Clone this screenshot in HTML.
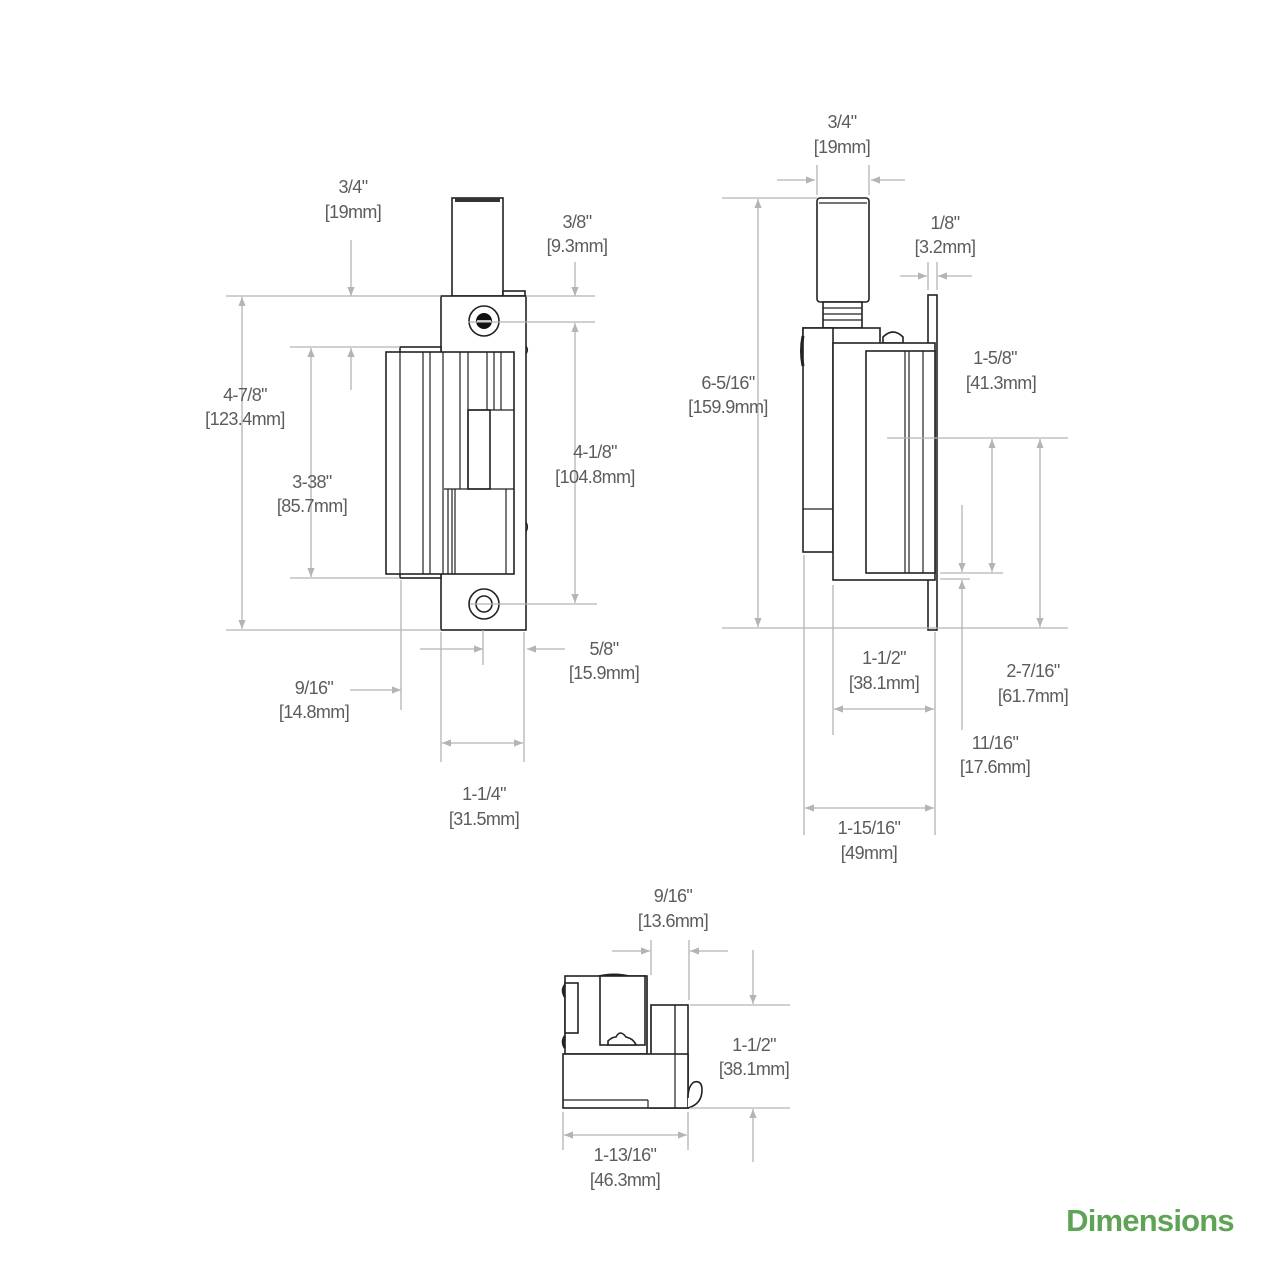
<!DOCTYPE html>
<html><head><meta charset="utf-8"><style>
html,body{margin:0;padding:0;background:#fff;}
svg{display:block;}
text{font-family:"Liberation Sans",sans-serif;font-size:18px;fill:#5c5c5c;text-anchor:middle;letter-spacing:-0.6px;}
.d{stroke:#b4b4b4;stroke-width:1.3;fill:none;}
.o{stroke:#222;stroke-width:1.6;fill:#fff;}
.l{stroke:#222;stroke-width:1.2;fill:none;}
</style></head><body>
<svg width="1280" height="1280" viewBox="0 0 1280 1280" xmlns="http://www.w3.org/2000/svg">
<defs>
<marker id="a" viewBox="0 0 10 10" refX="10" refY="5" markerWidth="9" markerHeight="9" orient="auto-start-reverse" markerUnits="userSpaceOnUse"><path d="M0,1 L10,5 L0,9 z" fill="#b4b4b4"/></marker>
</defs>

<!-- ===== LEFT VIEW ===== -->
<rect class="o" x="452" y="198" width="51" height="98"/>
<rect x="455" y="198" width="45" height="4" fill="#333"/>
<rect class="o" x="503" y="291" width="22" height="5"/>
<rect class="o" x="441" y="296" width="85" height="334"/>
<rect class="o" x="400" y="347" width="41" height="6"/>
<rect class="o" x="400" y="573" width="41" height="5"/>
<rect class="o" x="386" y="352" width="128" height="222"/>
<g class="l">
<line x1="400" y1="352" x2="400" y2="574"/>
<line x1="423" y1="352" x2="423" y2="574"/>
<line x1="430" y1="352" x2="430" y2="574"/>
<line x1="443" y1="352" x2="443" y2="574"/>
<line x1="460" y1="352" x2="460" y2="489"/>
<line x1="468" y1="352" x2="468" y2="489"/>
<line x1="487" y1="352" x2="487" y2="410"/>
<line x1="494" y1="352" x2="494" y2="410"/>
<line x1="501" y1="352" x2="501" y2="410"/>
<line x1="468" y1="410" x2="514" y2="410"/>
<rect x="468" y="410" width="22" height="79" stroke-width="1.6"/>
<line x1="444" y1="489" x2="514" y2="489"/>
<line x1="448" y1="489" x2="448" y2="574"/>
<line x1="452" y1="489" x2="452" y2="574"/>
<line x1="455" y1="489" x2="455" y2="574"/>
<line x1="506" y1="489" x2="506" y2="574"/>
</g>
<path d="M526,346 q3,4 0,8 M526,522 q3,5 0,10" class="l"/>
<circle cx="484" cy="321" r="15" class="o"/>
<circle cx="484" cy="321" r="8" fill="#111"/>
<line x1="477" y1="321" x2="491" y2="321" stroke="#fff" stroke-width="1.5"/>
<circle cx="484" cy="604" r="15" class="o"/>
<circle cx="484" cy="604" r="8" class="o"/>

<g class="d">
<line x1="226" y1="296" x2="441" y2="296"/>
<line x1="290" y1="347" x2="400" y2="347"/>
<line x1="226" y1="630" x2="441" y2="630"/>
<line x1="290" y1="578" x2="400" y2="578"/>
<line x1="526" y1="296" x2="595" y2="296"/>
<line x1="468" y1="322" x2="595" y2="322"/>
<line x1="470" y1="604" x2="597" y2="604"/>
<line x1="351" y1="240" x2="351" y2="296" marker-end="url(#a)"/>
<line x1="351" y1="390" x2="351" y2="348" marker-end="url(#a)"/>
<line x1="575" y1="262" x2="575" y2="296" marker-end="url(#a)"/>
<line x1="575" y1="323" x2="575" y2="603" marker-start="url(#a)" marker-end="url(#a)"/>
<line x1="242" y1="297" x2="242" y2="629" marker-start="url(#a)" marker-end="url(#a)"/>
<line x1="311" y1="348" x2="311" y2="577" marker-start="url(#a)" marker-end="url(#a)"/>
<line x1="420" y1="649" x2="483" y2="649" marker-end="url(#a)"/>
<line x1="565" y1="649" x2="527" y2="649" marker-end="url(#a)"/>
<line x1="483" y1="630" x2="483" y2="665"/>
<line x1="350" y1="690" x2="401" y2="690" marker-end="url(#a)"/>
<line x1="401" y1="580" x2="401" y2="710"/>
<line x1="441" y1="632" x2="441" y2="762"/>
<line x1="524" y1="632" x2="524" y2="762"/>
<line x1="442" y1="743" x2="523" y2="743" marker-start="url(#a)" marker-end="url(#a)"/>
</g>
<text x="353" y="193">3/4"</text><text x="353" y="218">[19mm]</text>
<text x="577" y="228">3/8"</text><text x="577" y="252">[9.3mm]</text>
<text x="245" y="401">4-7/8"</text><text x="245" y="425">[123.4mm]</text>
<text x="595" y="458">4-1/8"</text><text x="595" y="483">[104.8mm]</text>
<text x="312" y="488">3-38"</text><text x="312" y="512">[85.7mm]</text>
<text x="604" y="655">5/8"</text><text x="604" y="679">[15.9mm]</text>
<text x="314" y="694">9/16"</text><text x="314" y="718">[14.8mm]</text>
<text x="484" y="800">1-1/4"</text><text x="484" y="825">[31.5mm]</text>

<!-- ===== RIGHT VIEW ===== -->
<rect class="o" x="817" y="198" width="52" height="104" rx="3"/>
<line x1="819" y1="203" x2="867" y2="203" class="l"/>
<rect class="o" x="823" y="302" width="39" height="26"/>
<g class="l"><line x1="823" y1="308" x2="862" y2="308"/><line x1="823" y1="314" x2="862" y2="314"/><line x1="823" y1="320" x2="862" y2="320"/></g>
<rect class="o" x="803" y="328" width="77" height="16"/>
<rect class="o" x="803" y="328" width="30" height="224"/>
<line x1="803" y1="509" x2="833" y2="509" class="l"/>
<path d="M803,336 q-3,15 0,30" stroke="#222" stroke-width="3" fill="none"/>
<path d="M883,343 v-6 q10,-10 20,0 v6 z" class="o"/>
<rect class="o" x="928" y="295" width="9" height="335"/>
<rect class="o" x="833" y="343" width="102" height="237"/>
<rect class="o" x="866" y="351" width="69" height="222"/>
<g class="l"><line x1="905" y1="351" x2="905" y2="573"/><line x1="909" y1="351" x2="909" y2="573"/><line x1="923" y1="351" x2="923" y2="573"/></g>

<g class="d">
<line x1="817" y1="165" x2="817" y2="195"/>
<line x1="869" y1="165" x2="869" y2="195"/>
<line x1="777" y1="180" x2="815" y2="180" marker-end="url(#a)"/>
<line x1="905" y1="180" x2="871" y2="180" marker-end="url(#a)"/>
<line x1="722" y1="198" x2="817" y2="198"/>
<line x1="722" y1="628" x2="1068" y2="628"/>
<line x1="758" y1="199" x2="758" y2="627" marker-start="url(#a)" marker-end="url(#a)"/>
<line x1="900" y1="276" x2="927" y2="276" marker-end="url(#a)"/>
<line x1="972" y1="276" x2="938" y2="276" marker-end="url(#a)"/>
<line x1="928" y1="262" x2="928" y2="290"/>
<line x1="937" y1="262" x2="937" y2="290"/>
<line x1="887" y1="438" x2="1068" y2="438"/>
<line x1="992" y1="439" x2="992" y2="572" marker-start="url(#a)" marker-end="url(#a)"/>
<line x1="1040" y1="439" x2="1040" y2="627" marker-start="url(#a)" marker-end="url(#a)"/>
<line x1="940" y1="573" x2="1003" y2="573"/>
<line x1="940" y1="579" x2="970" y2="579"/>
<line x1="962" y1="505" x2="962" y2="572" marker-end="url(#a)"/>
<line x1="962" y1="730" x2="962" y2="580" marker-end="url(#a)"/>
<line x1="804" y1="555" x2="804" y2="835"/>
<line x1="833" y1="585" x2="833" y2="735"/>
<line x1="935" y1="632" x2="935" y2="835"/>
<line x1="834" y1="709" x2="934" y2="709" marker-start="url(#a)" marker-end="url(#a)"/>
<line x1="805" y1="808" x2="934" y2="808" marker-start="url(#a)" marker-end="url(#a)"/>
</g>
<text x="842" y="128">3/4"</text><text x="842" y="153">[19mm]</text>
<text x="945" y="229">1/8"</text><text x="945" y="253">[3.2mm]</text>
<text x="728" y="389">6-5/16"</text><text x="728" y="413">[159.9mm]</text>
<text x="995" y="364">1-5/8"</text><text x="1001" y="389">[41.3mm]</text>
<text x="884" y="664">1-1/2"</text><text x="884" y="689">[38.1mm]</text>
<text x="1033" y="677">2-7/16"</text><text x="1033" y="702">[61.7mm]</text>
<text x="995" y="749">11/16"</text><text x="995" y="773">[17.6mm]</text>
<text x="869" y="834">1-15/16"</text><text x="869" y="859">[49mm]</text>

<!-- ===== BOTTOM VIEW ===== -->
<path d="M596,976 q18,-5 36,0 z" fill="#222"/>
<rect class="o" x="565" y="976" width="82" height="78"/>
<rect class="o" x="600" y="976" width="45" height="69"/>
<line x1="647" y1="978" x2="647" y2="1052" class="l"/>
<path d="M608,1045 v-4 q4,-4 8,-4 q4,-8 10,0 q8,2 10,8 z" class="o"/>
<rect class="o" x="565" y="983" width="13" height="50"/>
<path d="M565,985 q-4,5 0,12 M565,1036 q-4,6 0,12" stroke="#222" stroke-width="2.5" fill="none"/>
<rect class="o" x="651" y="1005" width="37" height="103"/>
<line x1="675" y1="1005" x2="675" y2="1108" class="l"/>
<rect class="o" x="563" y="1054" width="125" height="54"/>
<line x1="651" y1="1054" x2="651" y2="1005" class="l"/>
<line x1="675" y1="1005" x2="675" y2="1108" class="l"/>
<line x1="563" y1="1100" x2="648" y2="1100" class="l"/>
<line x1="648" y1="1100" x2="648" y2="1108" class="l"/>
<path d="M688,1108 q14,-4 14,-18 q0,-10 -8,-8 q-6,4 -6,16" class="o"/>

<g class="d">
<line x1="651" y1="940" x2="651" y2="975"/>
<line x1="689" y1="940" x2="689" y2="1000"/>
<line x1="612" y1="951" x2="650" y2="951" marker-end="url(#a)"/>
<line x1="728" y1="951" x2="690" y2="951" marker-end="url(#a)"/>
<line x1="690" y1="1005" x2="790" y2="1005"/>
<line x1="690" y1="1108" x2="790" y2="1108"/>
<line x1="753" y1="950" x2="753" y2="1004" marker-end="url(#a)"/>
<line x1="753" y1="1162" x2="753" y2="1109" marker-end="url(#a)"/>
<line x1="563" y1="1112" x2="563" y2="1150"/>
<line x1="688" y1="1112" x2="688" y2="1150"/>
<line x1="564" y1="1135" x2="687" y2="1135" marker-start="url(#a)" marker-end="url(#a)"/>
</g>
<text x="673" y="902">9/16"</text><text x="673" y="927">[13.6mm]</text>
<text x="754" y="1051">1-1/2"</text><text x="754" y="1075">[38.1mm]</text>
<text x="625" y="1161">1-13/16"</text><text x="625" y="1186">[46.3mm]</text>

<text x="1150" y="1231" style="font-size:31px;font-weight:bold;fill:#5fa456;letter-spacing:-0.8px">Dimensions</text>
</svg>
</body></html>
